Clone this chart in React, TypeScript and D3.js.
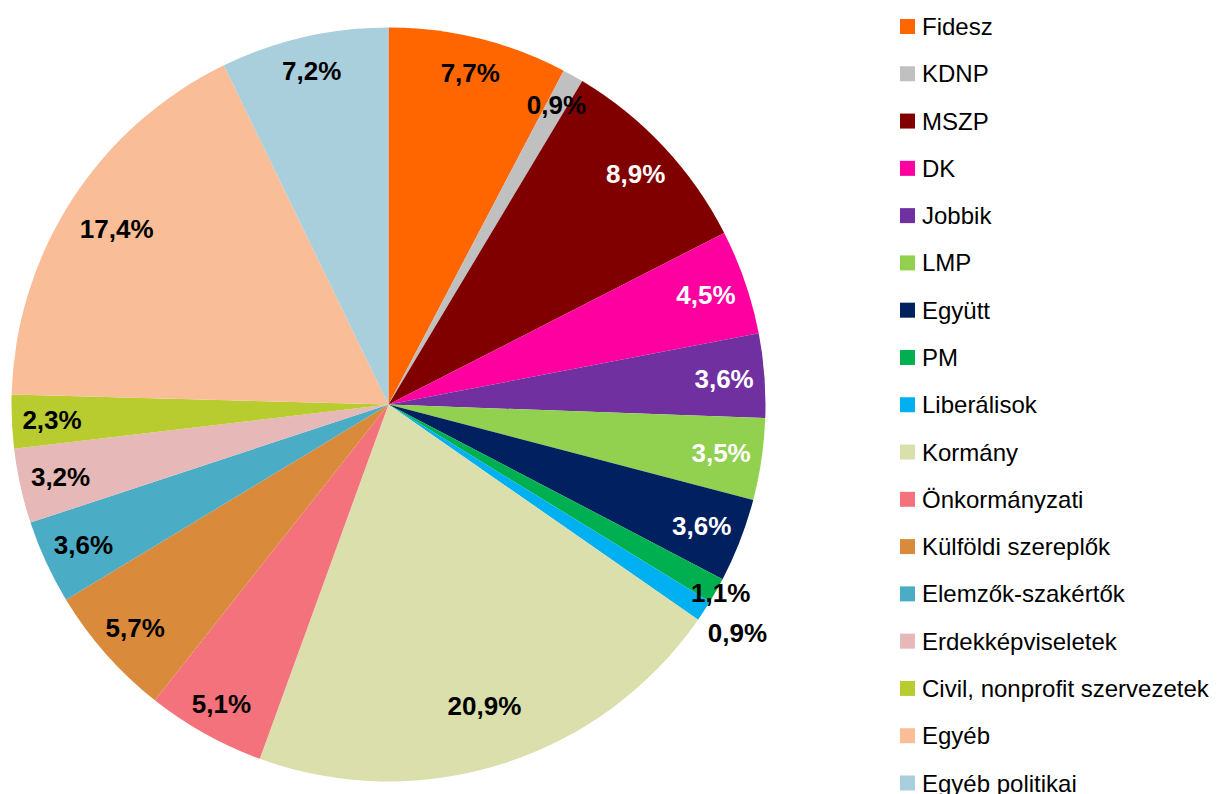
import { useEffect, useRef } from "react";
import * as d3 from "d3";

// chart size
const width = 1230;
const height = 794;

// data
const categories = [
  "Fidesz", "KDNP", "MSZP", "DK", "Jobbik", "LMP", "Együtt", "PM", "Liberálisok",
  "Kormány", "Önkormányzati", "Külföldi szereplők", "Elemzők-szakértők",
  "Erdekképviseletek", "Civil, nonprofit szervezetek", "Egyéb", "Egyéb politikai",
];
const shares = [7.7, 0.9, 8.9, 4.5, 3.6, 3.5, 3.6, 1.1, 0.9, 20.9, 5.1, 5.7, 3.6, 3.2, 2.3, 17.4, 7.2];
const labels = ["7,7%", "0,9%", "8,9%", "4,5%", "3,6%", "3,5%", "3,6%", "1,1%", "0,9%",
  "20,9%", "5,1%", "5,7%", "3,6%", "3,2%", "2,3%", "17,4%", "7,2%"];
const colours = [
  "#FF6600", "#C0C0C0", "#800000", "#FF00A0", "#7030A0", "#92D050", "#002060", "#00B050",
  "#00B0F0", "#DBDFAB", "#F3727C", "#DA8A3B", "#4BACC6", "#E6B8B7", "#B9CC2F", "#F9BD98", "#A9CEDC",
];
const whiteLabels = ["MSZP", "DK", "Jobbik", "LMP", "Együtt"];

const App = () => {
  const ref = useRef<SVGSVGElement>(null);

  useEffect(() => {
    const svg = d3.select(ref.current);
    svg.selectAll("*").remove();

    const cx = 388.5;
    const cy = 404.5;
    const radius = 377;

    const color = d3.scaleOrdinal<string, string>().domain(categories).range(colours);

    const pie = d3.pie<number>().sort(null).value((d) => d);
    const arcs = pie(shares);
    const arc = d3.arc<d3.PieArcDatum<number>>().innerRadius(0).outerRadius(radius);

    const g = svg.append("g").attr("transform", `translate(${cx},${cy})`);

    g.selectAll("path")
      .data(arcs)
      .join("path")
      .attr("d", arc)
      .attr("fill", (d, i) => color(categories[i]));

    const lbl = g.selectAll("text.lbl")
      .data(arcs)
      .join("text")
      .attr("class", "lbl")
      .attr("text-anchor", "middle")
      .attr("dominant-baseline", "central")
      .attr("font-family", "'Liberation Sans', Arial, sans-serif")
      .attr("font-weight", "bold")
      .attr("font-size", 26)
      .text((d, i) => labels[i]);

    // labels at the inside end: the outer corner of the label box sits
    // just inside the rim; big slices pulled in, tiny lower ones pushed out
    const pad = 10;
    let outside = 0;
    lbl.each(function (d, i) {
      const el = this as SVGTextElement;
      const w = el.getComputedTextLength();
      const h = 20;
      const mid = (d.startAngle + d.endAngle) / 2;
      const s = Math.sin(mid);
      const c = Math.cos(mid);
      const cornerDist = (r: number) =>
        Math.hypot(r * s + Math.sign(s) * w / 2, -r * c - Math.sign(c) * h / 2);
      let lo = 0;
      let hi = radius;
      for (let k = 0; k < 40; k++) {
        const m = (lo + hi) / 2;
        if (cornerDist(m) > radius - pad) hi = m; else lo = m;
      }
      let r = Math.min(lo, radius * (0.945 - 0.005 * shares[i]));
      let isOut = false;
      if (shares[i] < 1.2 && mid > Math.PI / 2 && mid < Math.PI) {
        r = radius * 1.013 + 35 * outside;
        outside++;
        isOut = true;
      }
      d3.select(el)
        .attr("x", r * s)
        .attr("y", -r * c)
        .attr("fill", !isOut && whiteLabels.includes(categories[i]) ? "#fff" : "#000");
    });

    // legend
    const legendY = d3.scalePoint<string>().domain(categories).range([26.5, 783]);
    const legend = svg.append("g").attr("transform", "translate(900,0)");
    const item = legend
      .selectAll("g")
      .data(categories)
      .join("g")
      .attr("transform", (d) => `translate(0,${legendY(d)})`);
    item.append("rect")
      .attr("x", 0)
      .attr("y", -7.5)
      .attr("width", 15)
      .attr("height", 15)
      .attr("fill", (d) => color(d));
    item.append("text")
      .attr("x", 22)
      .attr("y", 0)
      .attr("dominant-baseline", "central")
      .attr("font-family", "'Liberation Sans', Arial, sans-serif")
      .attr("font-size", 24)
      .attr("fill", "#000")
      .text((d) => d);
  }, []);

  return (
    <svg
      ref={ref}
      width={width}
      height={height}
      style={{ position: "absolute", left: 0, top: 0, background: "#fff" }}
    />
  );
};

export default App;
